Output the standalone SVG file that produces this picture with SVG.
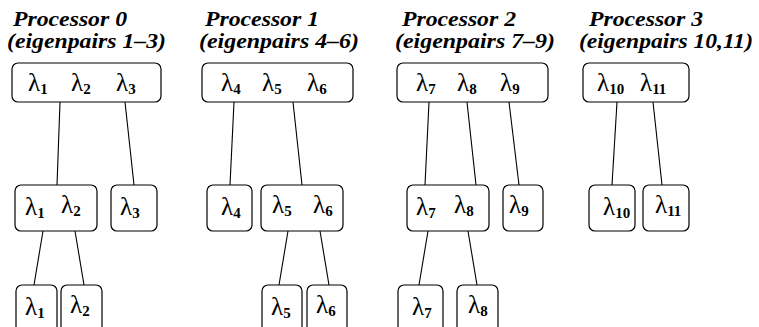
<svg xmlns="http://www.w3.org/2000/svg" width="759" height="327" viewBox="0 0 759 327">
<style>
.box{fill:#fff;stroke:#000;stroke-width:1.2}
.hd{font-family:'Liberation Serif',serif;font-weight:bold;font-style:italic;font-size:20px;fill:#000}
.lam{font-family:'Liberation Serif',serif;font-size:25px;fill:#000}
.sub{font-size:15px;font-weight:bold}
.conn line{stroke:#000;stroke-width:1.1}
</style>
<g id="headers">
<text class="hd" x="13" y="26" textLength="114" lengthAdjust="spacingAndGlyphs">Processor 0</text>
<text class="hd" x="7" y="48" textLength="159" lengthAdjust="spacingAndGlyphs">(eigenpairs 1–3)</text>
<text class="hd" x="205" y="26" textLength="114" lengthAdjust="spacingAndGlyphs">Processor 1</text>
<text class="hd" x="199" y="48" textLength="160" lengthAdjust="spacingAndGlyphs">(eigenpairs 4–6)</text>
<text class="hd" x="402" y="26" textLength="114" lengthAdjust="spacingAndGlyphs">Processor 2</text>
<text class="hd" x="395" y="48" textLength="160" lengthAdjust="spacingAndGlyphs">(eigenpairs 7–9)</text>
<text class="hd" x="589" y="26" textLength="114" lengthAdjust="spacingAndGlyphs">Processor 3</text>
<text class="hd" x="579" y="48" textLength="174" lengthAdjust="spacingAndGlyphs">(eigenpairs 10,11)</text>
</g>
<g class="conn" id="connectors">
<line x1="60" y1="102" x2="57" y2="185"/>
<line x1="125" y1="102" x2="134" y2="185"/>
<line x1="43" y1="231" x2="34" y2="285"/>
<line x1="75" y1="231" x2="84" y2="285"/>
<line x1="234" y1="102" x2="230" y2="185"/>
<line x1="293" y1="102" x2="302" y2="185"/>
<line x1="288" y1="231" x2="279" y2="285"/>
<line x1="320" y1="231" x2="329" y2="285"/>
<line x1="429" y1="102" x2="425" y2="185"/>
<line x1="467" y1="102" x2="476" y2="185"/>
<line x1="509" y1="102" x2="519" y2="185"/>
<line x1="428" y1="231" x2="419" y2="285"/>
<line x1="468" y1="231" x2="477" y2="285"/>
<line x1="617" y1="102" x2="612" y2="185"/>
<line x1="653" y1="102" x2="662" y2="185"/>
</g>
<g id="p0-top"><rect class="box" x="12" y="63" width="149" height="39" rx="6"/>
<text class="lam" x="28" y="91">λ<tspan class="sub" dy="3">1</tspan></text>
<text class="lam" x="71" y="91">λ<tspan class="sub" dy="3">2</tspan></text>
<text class="lam" x="116" y="91">λ<tspan class="sub" dy="3">3</tspan></text></g>
<g id="p1-top"><rect class="box" x="202" y="63" width="151" height="39" rx="6"/>
<text class="lam" x="221" y="91">λ<tspan class="sub" dy="3">4</tspan></text>
<text class="lam" x="262" y="91">λ<tspan class="sub" dy="3">5</tspan></text>
<text class="lam" x="307" y="91">λ<tspan class="sub" dy="3">6</tspan></text></g>
<g id="p2-top"><rect class="box" x="397" y="63" width="151" height="39" rx="6"/>
<text class="lam" x="416" y="91">λ<tspan class="sub" dy="3">7</tspan></text>
<text class="lam" x="457" y="91">λ<tspan class="sub" dy="3">8</tspan></text>
<text class="lam" x="500" y="91">λ<tspan class="sub" dy="3">9</tspan></text></g>
<g id="p3-top"><rect class="box" x="583" y="63" width="106" height="39" rx="6"/>
<text class="lam" x="597" y="91">λ<tspan class="sub" dy="3">10</tspan></text>
<text class="lam" x="640" y="91">λ<tspan class="sub" dy="3">11</tspan></text></g>
<g id="p0-mid12"><rect class="box" x="15" y="185" width="82" height="46" rx="6"/>
<text class="lam" x="25" y="215">λ<tspan class="sub" dy="3">1</tspan></text>
<text class="lam" x="61" y="213">λ<tspan class="sub" dy="3">2</tspan></text></g>
<g id="p0-mid3"><rect class="box" x="111" y="185" width="46" height="46" rx="6"/>
<text class="lam" x="120" y="215">λ<tspan class="sub" dy="3">3</tspan></text></g>
<g id="p1-mid4"><rect class="box" x="207" y="185" width="45" height="46" rx="6"/>
<text class="lam" x="221" y="215">λ<tspan class="sub" dy="3">4</tspan></text></g>
<g id="p1-mid56"><rect class="box" x="261" y="185" width="82" height="46" rx="6"/>
<text class="lam" x="272" y="213">λ<tspan class="sub" dy="3">5</tspan></text>
<text class="lam" x="313" y="213">λ<tspan class="sub" dy="3">6</tspan></text></g>
<g id="p2-mid78"><rect class="box" x="407" y="185" width="82" height="46" rx="6"/>
<text class="lam" x="416" y="215">λ<tspan class="sub" dy="3">7</tspan></text>
<text class="lam" x="454" y="213">λ<tspan class="sub" dy="3">8</tspan></text></g>
<g id="p2-mid9"><rect class="box" x="503" y="185" width="40" height="46" rx="6"/>
<text class="lam" x="509" y="213">λ<tspan class="sub" dy="3">9</tspan></text></g>
<g id="p3-mid10"><rect class="box" x="589" y="185" width="46" height="46" rx="6"/>
<text class="lam" x="603" y="215">λ<tspan class="sub" dy="3">10</tspan></text></g>
<g id="p3-mid11"><rect class="box" x="643" y="185" width="46" height="46" rx="6"/>
<text class="lam" x="655" y="213">λ<tspan class="sub" dy="3">11</tspan></text></g>
<g id="p0-bot1"><rect class="box" x="16" y="285" width="41" height="48" rx="6"/>
<text class="lam" x="25" y="315">λ<tspan class="sub" dy="3">1</tspan></text></g>
<g id="p0-bot2"><rect class="box" x="61" y="285" width="41" height="48" rx="6"/>
<text class="lam" x="70" y="313">λ<tspan class="sub" dy="3">2</tspan></text></g>
<g id="p1-bot5"><rect class="box" x="262" y="285" width="40" height="48" rx="6"/>
<text class="lam" x="271" y="315">λ<tspan class="sub" dy="3">5</tspan></text></g>
<g id="p1-bot6"><rect class="box" x="307" y="285" width="40" height="48" rx="6"/>
<text class="lam" x="316" y="313">λ<tspan class="sub" dy="3">6</tspan></text></g>
<g id="p2-bot7"><rect class="box" x="398" y="285" width="45" height="48" rx="6"/>
<text class="lam" x="412" y="315">λ<tspan class="sub" dy="3">7</tspan></text></g>
<g id="p2-bot8"><rect class="box" x="457" y="285" width="41" height="48" rx="6"/>
<text class="lam" x="468" y="313">λ<tspan class="sub" dy="3">8</tspan></text></g>
</svg>
